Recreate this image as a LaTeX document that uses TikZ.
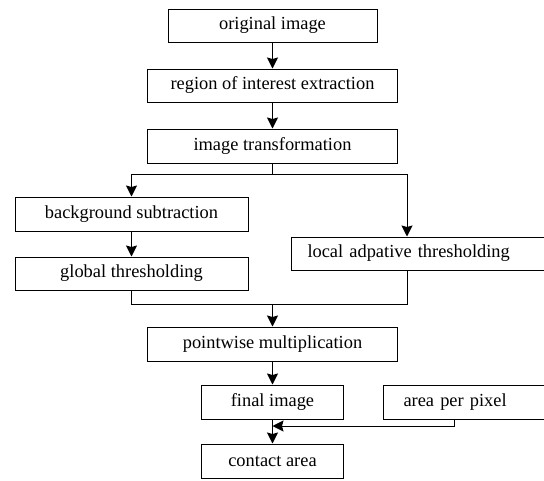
\documentclass[tikz,border=0pt]{standalone}
\usepackage{fontspec}
\setmainfont{Liberation Serif}
\usetikzlibrary{arrows.meta}
\begin{document}
\begin{tikzpicture}[x=1pt,y=-1pt,
  box/.style={draw, line width=1pt, inner sep=0pt, minimum height=33pt,
    font=\fontsize{18.4}{20}\selectfont},
  lbox/.style={box, anchor=west, align=left},
  conn/.style={line width=1pt},
  arr/.style={conn, -{Stealth[length=11pt,width=11pt,inset=1.5pt]}}]
\useasboundingbox (0,0) rectangle (544,480);
\clip (0,0) rectangle (544,480);
\node[box, minimum width=209pt] (orig) at (272.5,25.5) {original image};
\node[box, minimum width=250pt] (roi) at (272.5,85.5) {region of interest extraction};
\node[box, minimum width=250pt, minimum height=34pt] (trans) at (272.5,146) {image transformation};
\node[box, minimum width=233pt, minimum height=34pt] (bg) at (131.5,214) {background subtraction};
\node[box, minimum width=233pt] (glob) at (131.5,273.5) {global thresholding};
\node[lbox, inner xsep=16pt, text width=237pt] (loc) at (291,253.5) {local adpative thresholding};
\node[box, minimum width=250pt, minimum height=34pt] (pw) at (272.5,344) {pointwise multiplication};
\node[box, minimum width=142pt, minimum height=34pt] (fin) at (272.5,402) {final image};
\node[lbox, inner xsep=20pt, text width=137pt, minimum height=34pt] (app) at (383,402) {area per pixel};
\node[box, minimum width=142pt, minimum height=34pt] (ca) at (272.5,461) {contact area};
\coordinate (split) at (272.5,174);
\coordinate (merge) at (272.5,304);
\coordinate (join) at (272.5,426);
\draw[arr] (orig) -- (roi);
\draw[arr] (roi) -- (trans);
\draw[conn] (trans) -- (split);
\draw[arr] (split) -| (bg.north);
\draw[arr] (split) -| (407,0 |- loc.north);
\draw[arr] (bg) -- (glob);
\draw[conn] (glob.south) |- (merge);
\draw[conn] (407,0 |- loc.south) |- (merge);
\draw[arr] (merge) -- (pw);
\draw[arr] (pw) -- (fin);
\draw[arr] (fin) -- (ca);
\draw[arr] (454,0 |- app.south) |- (join);
\end{tikzpicture}
\end{document}
